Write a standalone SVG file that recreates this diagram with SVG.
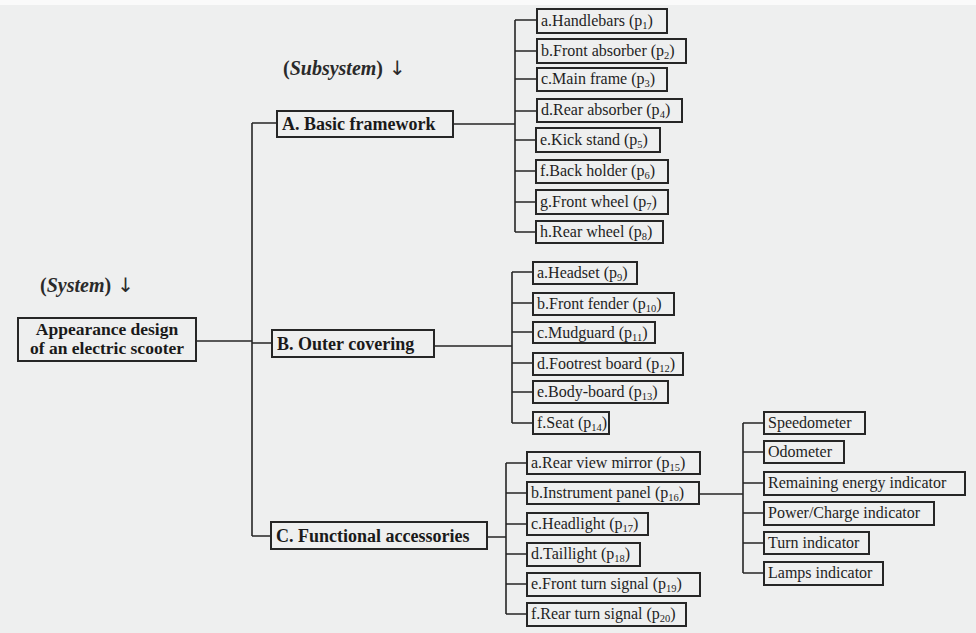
<svg xmlns="http://www.w3.org/2000/svg" width="976" height="633" viewBox="0 0 976 633">
  <style>
    .bg { fill: #eeefef; }
    .box { fill: none; stroke: #262626; stroke-width: 2; }
    .wire { fill: none; stroke: #262626; stroke-width: 1.6; }
    .leaf { font-family: "Liberation Serif", "Times New Roman", serif; font-size: 16px; fill: #1e1e1e; }
    .sub { font-size: 10.5px; }
    .head { font-family: "Liberation Serif", "Times New Roman", serif; font-size: 18px; font-weight: bold; fill: #1a1a1a; }
    .root { font-size: 17.5px; }
    .tag { font-family: "Liberation Serif", "Times New Roman", serif; font-size: 20px; font-weight: bold; fill: #2a2a2a; }
    .arrow { font-family: "DejaVu Sans", sans-serif; font-weight: normal; font-size: 20px; fill: #2a2a2a; }
  </style>

  <rect class="bg" x="0" y="0" width="976" height="633"/>
  <rect x="0" y="0" width="976" height="5" fill="#fafafa"/>

  <!-- level captions -->
  <text class="tag" x="283" y="75">(<tspan font-style="italic">Subsystem</tspan>)<tspan class="arrow" dx="6">↓</tspan></text>
  <text class="tag" x="40" y="292">(<tspan font-style="italic">System</tspan>)<tspan class="arrow" dx="6">↓</tspan></text>

  <!-- connectors -->
  <g id="connectors" class="wire">
    <!-- root to trunk -->
    <path d="M196 341 H252"/>
    <path d="M252 123 V536"/>
    <path d="M252 123 H277 M252 343 H272 M252 536 H271"/>
    <!-- A branch -->
    <path d="M453 124 H515 M515 20 V232"/>
    <path d="M515 20 H537 M515 51 H537 M515 79 H537 M515 111 H537 M515 140 H536 M515 171 H536 M515 202 H536 M515 232 H536"/>
    <!-- B branch -->
    <path d="M434 346 H512 M512 272 V423"/>
    <path d="M512 272 H533 M512 303 H533 M512 332 H533 M512 363 H533 M512 392 H533 M512 423 H533"/>
    <!-- C branch -->
    <path d="M487 537 H506 M506 463 V614"/>
    <path d="M506 463 H527 M506 493 H527 M506 524 H527 M506 554 H527 M506 584 H527 M506 614 H527"/>
    <!-- instrument panel branch -->
    <path d="M699 494 H743 M743 423 V573"/>
    <path d="M743 423 H764 M743 452 H764 M743 483 H764 M743 513 H764 M743 543 H764 M743 573 H764"/>
  </g>

  <!-- system -->
  <g id="root">
    <rect class="box" x="18" y="318" width="178" height="43"/>
    <text class="head root" x="107" y="335" text-anchor="middle">Appearance design</text>
    <text class="head root" x="107" y="354" text-anchor="middle">of an electric scooter</text>
  </g>

  <!-- subsystems -->
  <g id="sub-a">
    <rect class="box" x="277" y="111" width="176" height="26"/>
    <text class="head" x="282" y="130">A. Basic framework</text>
  </g>
  <g id="sub-b">
    <rect class="box" x="272" y="330" width="162" height="27"/>
    <text class="head" x="277" y="350">B. Outer covering</text>
  </g>
  <g id="sub-c">
    <rect class="box" x="271" y="522" width="216" height="27"/>
    <text class="head" x="276" y="542">C. Functional accessories</text>
  </g>

  <!-- A parts -->
  <g id="a1"><rect class="box" x="537" y="9" width="130" height="24"/><text class="leaf" x="541" y="26">a.Handlebars (p<tspan class="sub" dy="3">1</tspan><tspan dy="-3">)</tspan></text></g>
  <g id="a2"><rect class="box" x="537" y="39" width="149" height="24"/><text class="leaf" x="541" y="56">b.Front absorber (p<tspan class="sub" dy="3">2</tspan><tspan dy="-3">)</tspan></text></g>
  <g id="a3"><rect class="box" x="537" y="68" width="130" height="23"/><text class="leaf" x="541" y="84">c.Main frame (p<tspan class="sub" dy="3">3</tspan><tspan dy="-3">)</tspan></text></g>
  <g id="a4"><rect class="box" x="537" y="99" width="145" height="23"/><text class="leaf" x="541" y="115">d.Rear absorber (p<tspan class="sub" dy="3">4</tspan><tspan dy="-3">)</tspan></text></g>
  <g id="a5"><rect class="box" x="536" y="128" width="124" height="24"/><text class="leaf" x="540" y="145">e.Kick stand (p<tspan class="sub" dy="3">5</tspan><tspan dy="-3">)</tspan></text></g>
  <g id="a6"><rect class="box" x="536" y="160" width="132" height="23"/><text class="leaf" x="540" y="176">f.Back holder (p<tspan class="sub" dy="3">6</tspan><tspan dy="-3">)</tspan></text></g>
  <g id="a7"><rect class="box" x="536" y="190" width="132" height="24"/><text class="leaf" x="540" y="207">g.Front wheel (p<tspan class="sub" dy="3">7</tspan><tspan dy="-3">)</tspan></text></g>
  <g id="a8"><rect class="box" x="536" y="221" width="127" height="22"/><text class="leaf" x="540" y="237">h.Rear wheel (p<tspan class="sub" dy="3">8</tspan><tspan dy="-3">)</tspan></text></g>

  <!-- B parts -->
  <g id="b1"><rect class="box" x="533" y="262" width="104" height="22"/><text class="leaf" x="537" y="278">a.Headset (p<tspan class="sub" dy="3">9</tspan><tspan dy="-3">)</tspan></text></g>
  <g id="b2"><rect class="box" x="533" y="293" width="141" height="22"/><text class="leaf" x="537" y="309">b.Front fender (p<tspan class="sub" dy="3">10</tspan><tspan dy="-3">)</tspan></text></g>
  <g id="b3"><rect class="box" x="533" y="322" width="122" height="21"/><text class="leaf" x="537" y="338">c.Mudguard (p<tspan class="sub" dy="3">11</tspan><tspan dy="-3">)</tspan></text></g>
  <g id="b4"><rect class="box" x="533" y="353" width="150" height="22"/><text class="leaf" x="537" y="369">d.Footrest board (p<tspan class="sub" dy="3">12</tspan><tspan dy="-3">)</tspan></text></g>
  <g id="b5"><rect class="box" x="533" y="381" width="135" height="22"/><text class="leaf" x="537" y="397">e.Body-board (p<tspan class="sub" dy="3">13</tspan><tspan dy="-3">)</tspan></text></g>
  <g id="b6"><rect class="box" x="533" y="412" width="76" height="22"/><text class="leaf" x="537" y="428">f.Seat (p<tspan class="sub" dy="3">14</tspan><tspan dy="-3">)</tspan></text></g>

  <!-- C parts -->
  <g id="c1"><rect class="box" x="527" y="452" width="173" height="22"/><text class="leaf" x="531" y="468">a.Rear view mirror (p<tspan class="sub" dy="3">15</tspan><tspan dy="-3">)</tspan></text></g>
  <g id="c2"><rect class="box" x="527" y="482" width="172" height="22"/><text class="leaf" x="531" y="498">b.Instrument panel (p<tspan class="sub" dy="3">16</tspan><tspan dy="-3">)</tspan></text></g>
  <g id="c3"><rect class="box" x="527" y="513" width="121" height="22"/><text class="leaf" x="531" y="529">c.Headlight (p<tspan class="sub" dy="3">17</tspan><tspan dy="-3">)</tspan></text></g>
  <g id="c4"><rect class="box" x="527" y="543" width="113" height="23"/><text class="leaf" x="531" y="559">d.Taillight (p<tspan class="sub" dy="3">18</tspan><tspan dy="-3">)</tspan></text></g>
  <g id="c5"><rect class="box" x="527" y="573" width="173" height="23"/><text class="leaf" x="531" y="589">e.Front turn signal (p<tspan class="sub" dy="3">19</tspan><tspan dy="-3">)</tspan></text></g>
  <g id="c6"><rect class="box" x="527" y="603" width="159" height="23"/><text class="leaf" x="531" y="619">f.Rear turn signal (p<tspan class="sub" dy="3">20</tspan><tspan dy="-3">)</tspan></text></g>

  <!-- instrument panel indicators -->
  <g id="i1"><rect class="box" x="764" y="412" width="101" height="22"/><text class="leaf" x="768" y="428">Speedometer</text></g>
  <g id="i2"><rect class="box" x="764" y="441" width="80" height="22"/><text class="leaf" x="768" y="457">Odometer</text></g>
  <g id="i3"><rect class="box" x="764" y="472" width="201" height="23"/><text class="leaf" x="768" y="488">Remaining energy indicator</text></g>
  <g id="i4"><rect class="box" x="764" y="502" width="170" height="23"/><text class="leaf" x="768" y="518">Power/Charge indicator</text></g>
  <g id="i5"><rect class="box" x="764" y="532" width="105" height="22"/><text class="leaf" x="768" y="548">Turn indicator</text></g>
  <g id="i6"><rect class="box" x="764" y="562" width="119" height="23"/><text class="leaf" x="768" y="578">Lamps indicator</text></g>
</svg>
